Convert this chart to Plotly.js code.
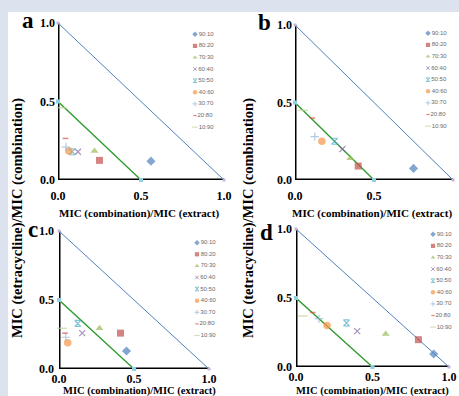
<!DOCTYPE html>
<html><head><meta charset="utf-8">
<script src="https://cdn.plot.ly/plotly-3.0.1.min.js"></script>
<style>html,body{margin:0;padding:0;background:#fff}#chart{width:459px;height:396px}</style>
</head><body><div id="chart"></div>
<script>
// ---- data ----
const ratios = ['90:10','80:20','70:30','60:40','50:50','40:60','30:70','20:80','10:90'];
const panelA_x = [0.56, 0.25, 0.22, 0.12, 0.085, 0.065, 0.048, 0.045, 0.022];
const panelA_y = [0.12, 0.125, 0.185, 0.18, 0.18, 0.185, 0.21, 0.265, 0.46];
const panelB_x = [0.75, 0.40, 0.35, 0.30, 0.25, 0.17, 0.125, 0.11, 0.05];
const panelB_y = [0.075, 0.09, 0.14, 0.20, 0.25, 0.25, 0.28, 0.40, 0.45];
const panelC_x = [0.45, 0.41, 0.27, 0.155, 0.125, 0.058, 0.045, 0.04, 0.02];
const panelC_y = [0.13, 0.26, 0.295, 0.26, 0.33, 0.19, 0.23, 0.26, 0.295];
const panelD_x = [0.90, 0.80, 0.586, 0.40, 0.33, 0.203, 0.15, 0.11, 0.044];
const panelD_y = [0.094, 0.198, 0.24, 0.26, 0.32, 0.30, 0.35, 0.395, 0.37];
const additiveX = [0, 1], additiveY = [1, 0];
const synergyX = [0, 0.5], synergyY = [0.5, 0];
const panelLetters = ['a', 'b', 'c', 'd'];
const tickVals = [0, 0.5, 1];
const tickText = ['0.0', '0.5', '1.0'];
const xTitleText = 'MIC (combination)/MIC (extract)';
const yTitleText = 'MIC (tetracycline)/MIC (combination)';

// ---- styles / layout ----
const W = 459, H = 396;
const serif = 'Liberation Serif, Times New Roman, serif';
const colors = ['#4F81BD','#C0504D','#9BBB59','#8064A2','#4BACC6','#F79646','#95B3D7','#D9534F','#C3D69B'];
const symbols = ['diamond','square','triangle-up','x-thin-open','hourglass-open','circle','cross-thin-open','line-ew-open','line-ew-open'];
const sizes = [7, 7, 7, 6, 6, 7.5, 6, 4, 7];
const lineW = [0, 0, 0, 1.2, 1.2, 0, 1.2, 1.5, 1.5];

const panels = [
  {xs: panelA_x, ys: panelA_y, x0: 58, x1: 224, yTop: 23, yBot: 180, letter: [28, 21], xt: [139, 213], xtSize: 11, leg: [195, 34.3], stand: 7, yStand: 2},
  {xs: panelB_x, ys: panelB_y, x0: 295, x1: 453, yTop: 25, yBot: 180, letter: [264, 23], xt: [372, 213], xtSize: 11, leg: [428, 33.3], stand: 7, yStand: 2},
  {xs: panelC_x, ys: panelC_y, x0: 59, x1: 209, yTop: 231, yBot: 369, letter: [33, 229], xt: [139, 391], xtSize: 10.5, leg: [197, 242.7], stand: 1, yStand: 4},
  {xs: panelD_x, ys: panelD_y, x0: 296, x1: 449, yTop: 229, yBot: 367, letter: [266, 233], xt: [372, 391], xtSize: 10.5, leg: [433, 234.3], stand: 1, yStand: 3}
];
const legStep = 11.6;

const px = v => v / W;
const py = v => 1 - v / H;

const traces = [];
const layout = {
  width: W, height: H,
  margin: {l: 0, r: 0, t: 0, b: 0},
  paper_bgcolor: '#ffffff',
  plot_bgcolor: 'rgba(0,0,0,0)',
  showlegend: false,
  shapes: [
    {type: 'rect', xref: 'paper', yref: 'paper', x0: 0, x1: 1, y0: py(12), y1: 1, fillcolor: '#dde2ef', line: {width: 0}, layer: 'below'},
    {type: 'rect', xref: 'paper', yref: 'paper', x0: 0, x1: px(8), y0: 0, y1: 1, fillcolor: '#dde2ef', line: {width: 0}, layer: 'below'}
  ],
  annotations: [],
  xaxis5: {domain: [0, 1], range: [0, W], visible: false, anchor: 'y5', fixedrange: true},
  yaxis5: {domain: [0, 1], range: [H, 0], visible: false, anchor: 'x5', fixedrange: true}
};

panels.forEach((p, i) => {
  const n = i + 1;
  const xa = 'x' + n, ya = 'y' + n;
  const axisCommon = {
    range: [0, 1], showline: false,
    showgrid: false, zeroline: false, ticks: '', tickvals: tickVals, ticktext: tickText,
    tickfont: {family: serif, size: 12, color: '#000', weight: 'bold'}, fixedrange: true
  };
  layout['xaxis' + n] = Object.assign({}, axisCommon, {domain: [px(p.x0), px(p.x1)], anchor: ya, ticklabelstandoff: p.stand});
  layout['yaxis' + n] = Object.assign({}, axisCommon, {domain: [py(p.yBot), py(p.yTop)], anchor: xa, ticklabelstandoff: p.yStand});

  // thick black axis lines
  layout.shapes.push({type: 'line', xref: xa, yref: ya, x0: 0, x1: 1, y0: 0, y1: 0, line: {color: '#000', width: 3}, layer: 'below'});
  layout.shapes.push({type: 'line', xref: xa, yref: ya, x0: 0, x1: 0, y0: 0, y1: 1, line: {color: '#000', width: 3}, layer: 'below'});

  // reference lines
  traces.push({type: 'scatter', mode: 'lines+markers', x: additiveX, y: additiveY, xaxis: xa, yaxis: ya,
    line: {color: '#4F81BD', width: 1}, marker: {symbol: 'square', size: 3, color: '#c4b5dc'}, cliponaxis: false, hoverinfo: 'skip'});
  traces.push({type: 'scatter', mode: 'lines+markers', x: synergyX, y: synergyY, xaxis: xa, yaxis: ya,
    line: {color: '#2a9a2a', width: 1.3}, marker: {symbol: 'square', size: 4, color: '#8fd0e3'}, cliponaxis: false, hoverinfo: 'skip'});

  // data points
  traces.push({type: 'scatter', mode: 'markers', x: p.xs, y: p.ys, text: ratios, xaxis: xa, yaxis: ya, cliponaxis: false,
    marker: {symbol: symbols, size: sizes, color: colors, line: {color: colors, width: lineW}}});

  // legend (manual, compact)
  traces.push({type: 'scatter', mode: 'markers+text', xaxis: 'x5', yaxis: 'y5', cliponaxis: false, hoverinfo: 'skip',
    x: ratios.map(() => p.leg[0]), y: ratios.map((_, k) => p.leg[1] + k * legStep),
    text: ratios, textposition: 'middle right',
    textfont: {family: 'Liberation Sans, Arial, sans-serif', size: 6, color: '#6a6a6a'},
    marker: {symbol: symbols, size: sizes.map(s => s * 0.6), color: colors, line: {color: colors, width: lineW.map(w => w * 0.8)}}});

  layout.annotations.push({xref: 'paper', yref: 'paper', x: px(p.letter[0]), y: py(p.letter[1]), text: panelLetters[i],
    showarrow: false, xanchor: 'center', yanchor: 'middle', font: {family: serif, size: 23, color: '#000', weight: 'bold'}});
  layout.annotations.push({xref: 'paper', yref: 'paper', x: px(p.xt[0]), y: py(p.xt[1]), text: xTitleText,
    showarrow: false, xanchor: 'center', yanchor: 'middle', font: {family: serif, size: p.xtSize, color: '#000', weight: 'bold'}});
});

[17, 248].forEach(xc => {
  layout.annotations.push({xref: 'paper', yref: 'paper', x: px(xc), y: py(218), text: yTitleText, textangle: -90,
    showarrow: false, xanchor: 'center', yanchor: 'middle', font: {family: serif, size: 14.5, color: '#000', weight: 'bold'}});
});

Plotly.newPlot('chart', traces, layout, {displayModeBar: false, staticPlot: true});
</script>
</body></html>
